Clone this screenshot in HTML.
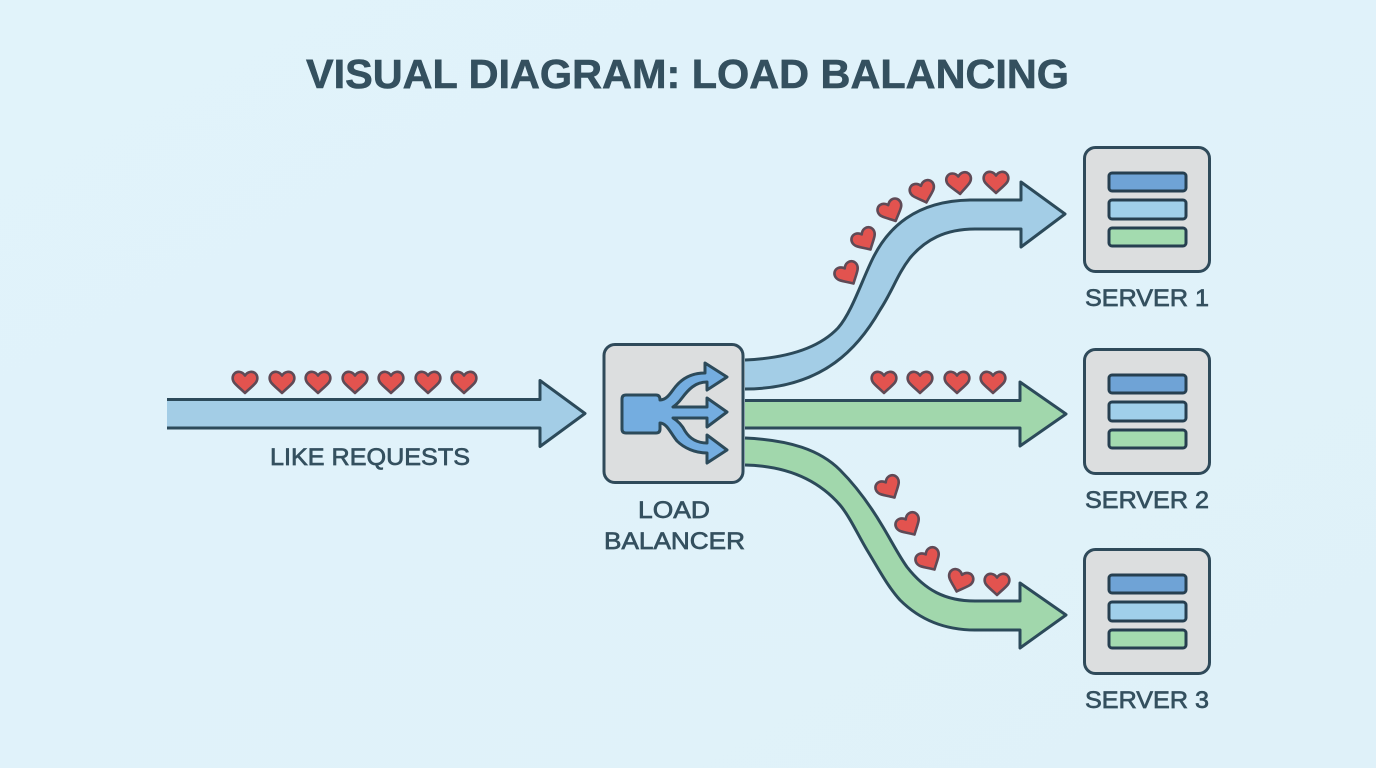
<!DOCTYPE html>
<html>
<head>
<meta charset="utf-8">
<style>
html,body{margin:0;padding:0;width:1376px;height:768px;overflow:hidden;background:#e0f2fa}
svg{display:block}
text{font-family:"Liberation Sans",sans-serif;fill:#34505f}
.l{font-size:24px;stroke:#34505f;stroke-width:.7}
</style>
</head>
<body>
<svg width="1376" height="768" viewBox="0 0 1376 768" xmlns="http://www.w3.org/2000/svg">
<defs>
<linearGradient id="bg" x1="0" y1="0" x2="1" y2="1"><stop offset="0" stop-color="#e1f3fa"/><stop offset="1" stop-color="#dff1f9"/></linearGradient>
<path id="h" d="M0 11C-3 8-8 4-10.500 1C-13-2-13-6-10.500-8.500C-8-11-3-11 0-6.500C3-11 8-11 10.500-8.500C13-6 13-2 10.500 1C8 4 3 8 0 11Z" fill="#e2534f" stroke="#5f4a56" stroke-width="2.600" stroke-linejoin="round"/>
<g id="srv">
<rect x="1084.500" y="1.500" width="125" height="124" rx="11" fill="#dcdedf" stroke="#2f4a5a" stroke-width="3"/>
<rect x="1109" y="27" width="77" height="18" rx="3" fill="#6fa3d6" stroke="#263f50" stroke-width="3"/>
<rect x="1109" y="54" width="77" height="19" rx="3" fill="#a0cfea" stroke="#263f50" stroke-width="3"/>
<rect x="1109" y="82" width="77" height="18" rx="3" fill="#a3dbaf" stroke="#263f50" stroke-width="3"/>
</g>
</defs>
<rect width="1376" height="768" fill="url(#bg)"/>

<text x="306" y="88" font-size="41" font-weight="700" textLength="763" lengthAdjust="spacingAndGlyphs" stroke="#34505f" stroke-width=".6">VISUAL DIAGRAM: LOAD BALANCING</text>

<g stroke="#2c4a5a" stroke-width="3" stroke-linejoin="round">
<path d="M167 399.500H540V380.500L585 413.500L540 446.500V428H167" fill="#a3cde6"/>
<path d="M745 360C790 358 820 347 838 328C852 312 862 280 873 258C888 228 915 201 970 200H1021V182L1065 214L1021 247V229H975C945 229 925 240 910 258C897 275 893 290 880 310C860 345 825 389 745 389" fill="#a3cde6"/>
<path d="M745 400.500H1020V382L1066 414L1020 446V428H745" fill="#a1d7ac"/>
<path d="M745 438C790 440 820 450 840 470C856 486 870 505 883 527C892 542 899 556 907 567C925 590 945 601 975 601H1020V583L1066 615L1020 648V630H975C945 630 920 620 900 600C888 587 878 568 867 550C858 535 850 517 840 505C820 482 790 466 745 465" fill="#a1d7ac"/>
</g>

<rect x="604" y="344.500" width="139" height="138" rx="11" fill="#dcdedf" stroke="#2f4a5a" stroke-width="3"/>

<!-- balancer icon -->
<path d="M626 395H656Q660 395 660 400C668 400 672 390 677 385C685 376 695 373 705 373V363L727 377L707 390V382C695 382 688 390 682 398C679 402 676 405 673 407H707V398L727 412L707 427V418H673C678 421 682 425 685 431C690 439 697 443 707 443V435L727 450L707 463V453C695 453 684 448 677 441C671 434 667 423 660 423V429Q660 433 656 433H626Q622 433 622 429V399Q622 395 626 395Z" fill="#74ade0" stroke="#2c4a5a" stroke-width="3" stroke-linejoin="round"/>

<use href="#srv" y="146"/>
<use href="#srv" y="348"/>
<use href="#srv" y="548"/>

<g>
<use href="#h" transform="translate(245 382)"/>
<use href="#h" transform="translate(282 382)"/>
<use href="#h" transform="translate(318 382)"/>
<use href="#h" transform="translate(355 382)"/>
<use href="#h" transform="translate(391 382)"/>
<use href="#h" transform="translate(428 382)"/>
<use href="#h" transform="translate(464 382)"/>
<use href="#h" transform="translate(884 382)"/>
<use href="#h" transform="translate(920 382)"/>
<use href="#h" transform="translate(957 382)"/>
<use href="#h" transform="translate(993 382)"/>
<use href="#h" transform="translate(848 274) rotate(-30)"/>
<use href="#h" transform="translate(865 240) rotate(-30)"/>
<use href="#h" transform="translate(891 211) rotate(-25)"/>
<use href="#h" transform="translate(923 192) rotate(-18)"/>
<use href="#h" transform="translate(959 183) rotate(-6)"/>
<use href="#h" transform="translate(996 182)"/>
<use href="#h" transform="translate(889 488) rotate(-30)"/>
<use href="#h" transform="translate(909 525) rotate(-30)"/>
<use href="#h" transform="translate(929 560) rotate(-30)"/>
<use href="#h" transform="translate(960 581) rotate(18)"/>
<use href="#h" transform="translate(997 584)"/>
</g>

<text class="l" x="270" y="465" textLength="200" lengthAdjust="spacingAndGlyphs">LIKE REQUESTS</text>
<text class="l" x="638" y="518" textLength="72" lengthAdjust="spacingAndGlyphs">LOAD</text>
<text class="l" x="604" y="549" textLength="141" lengthAdjust="spacingAndGlyphs">BALANCER</text>
<text class="l" x="1085" y="306" textLength="124" lengthAdjust="spacingAndGlyphs">SERVER 1</text>
<text class="l" x="1085" y="508" textLength="124" lengthAdjust="spacingAndGlyphs">SERVER 2</text>
<text class="l" x="1085" y="708" textLength="124" lengthAdjust="spacingAndGlyphs">SERVER 3</text>
</svg>
</body>
</html>
